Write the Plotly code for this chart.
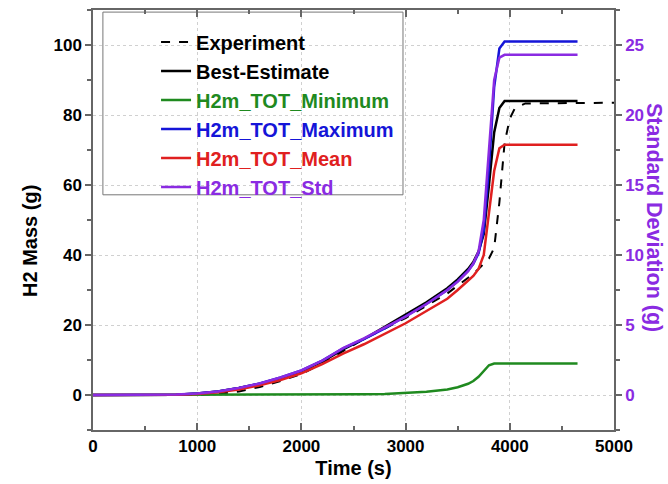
import plotly.graph_objects as go

# ---------------- data ----------------
t_sim = [0, 500, 800, 1000, 1200, 1400, 1600, 1800, 2000, 2200, 2400, 2600, 2800,
         3000, 3200, 3400, 3500, 3600, 3650, 3700, 3750, 3800, 3850, 3900, 3950, 4000, 4650]
best_est = [0, 0, 0.1, 0.4, 1.0, 2.0, 3.2, 4.8, 6.8, 9.5, 13.0, 16.0, 19.5,
            23.0, 26.5, 30.5, 33.0, 36.0, 38.0, 41.0, 46.0, 60.0, 75.0, 82.0, 84.0, 84.0, 84.0]
h2_min = [0, 0, 0, 0, 0, 0, 0, 0, 0.05, 0.1, 0.15, 0.2, 0.3,
          0.5, 0.9, 1.6, 2.2, 3.2, 4.0, 5.2, 6.8, 8.5, 9.0, 9.0, 9.0, 9.0, 9.0]
h2_max = [0, 0, 0.1, 0.4, 1.0, 2.0, 3.3, 5.0, 7.0, 9.8, 13.3, 16.0, 19.0,
          22.5, 26.0, 30.0, 32.5, 35.5, 37.5, 40.5, 47.0, 65.0, 88.0, 99.0, 101.0, 101.0, 101.0]
h2_mean = [0, 0, 0.1, 0.3, 0.8, 1.6, 2.8, 4.3, 6.2, 8.8, 11.8, 14.5, 17.5,
           20.5, 24.0, 27.5, 30.0, 32.5, 34.0, 36.0, 40.0, 52.0, 64.0, 70.5, 71.5, 71.5, 71.5]
h2_std = [0, 0, 0.03, 0.1, 0.25, 0.5, 0.82, 1.25, 1.75, 2.45, 3.35, 4.05, 4.8,
          5.6, 6.5, 7.5, 8.1, 8.85, 9.4, 10.25, 12.5, 17.5, 22.5, 24.1, 24.3, 24.3, 24.3]

t_exp = [0, 1000, 1200, 1400, 1600, 1800, 2000, 2200, 2400, 2600, 2800, 3000, 3200,
         3400, 3600, 3700, 3800, 3850, 3900, 3950, 4000, 4050, 4150, 5000]
exp_val = [0, 0, 0.3, 1.0, 2.3, 4.0, 6.0, 9.0, 12.5, 16.0, 19.0, 22.0, 25.5,
           29.0, 33.5, 36.0, 39.0, 42.0, 55.0, 72.0, 79.0, 82.0, 83.3, 83.5]

x_ticks = [0, 1000, 2000, 3000, 4000, 5000]
y_ticks = [0, 20, 40, 60, 80, 100]
y2_ticks = [0, 5, 10, 15, 20, 25]

FONT = "Liberation Sans, Arial, sans-serif"
PURPLE = "#8a2be2"

def lbl(text, color):
    return f'<span style="color:{color}"><b>{text}</b></span>'

fig = go.Figure()
fig.add_trace(go.Scatter(x=t_exp, y=exp_val, mode="lines", name=lbl("Experiment", "black"),
                         line=dict(color="black", width=2, dash="dash")))
fig.add_trace(go.Scatter(x=t_sim, y=best_est, mode="lines", name=lbl("Best-Estimate", "black"),
                         line=dict(color="black", width=2.5)))
fig.add_trace(go.Scatter(x=t_sim, y=h2_min, mode="lines", name=lbl("H2m_TOT_Minimum", "#1f8a1f"),
                         line=dict(color="#1f8a1f", width=2.5)))
fig.add_trace(go.Scatter(x=t_sim, y=h2_max, mode="lines", name=lbl("H2m_TOT_Maximum", "#1515d8"),
                         line=dict(color="#1515d8", width=2.5)))
fig.add_trace(go.Scatter(x=t_sim, y=h2_mean, mode="lines", name=lbl("H2m_TOT_Mean", "#e02020"),
                         line=dict(color="#e02020", width=2.5)))
fig.add_trace(go.Scatter(x=t_sim, y=h2_std, mode="lines", name=lbl("H2m_TOT_Std", PURPLE),
                         line=dict(color=PURPLE, width=2.5), yaxis="y2"))

axis_line = "#666666"
fig.update_layout(
    width=668, height=484,
    margin=dict(l=93, r=54, t=8, b=52),
    paper_bgcolor="white", plot_bgcolor="white",
    font=dict(family=FONT, size=16, color="black"),
    showlegend=True,
    legend=dict(x=0.121, y=0.97, xanchor="left", yanchor="top",
                bgcolor="rgba(255,255,255,0)", borderwidth=0,
                font=dict(family=FONT, size=20), traceorder="normal"),
    xaxis=dict(range=[0, 5000], tickvals=x_ticks, ticks="inside", ticklen=7,
               tickwidth=1.5, tickcolor=axis_line,
               minor=dict(dtick=500, ticks="inside", ticklen=4, tickcolor=axis_line, showgrid=False),
               showline=True, linecolor=axis_line, linewidth=1.5, mirror="ticks",
               showgrid=True, gridcolor="#d0d0d0", griddash="dot", gridwidth=1,
               zeroline=False,
               tickfont=dict(family=FONT, size=17, weight="bold"),
               title=dict(text="<b>Time (s)</b>", font=dict(family=FONT, size=20), standoff=6)),
    yaxis=dict(range=[-10, 110], tickvals=y_ticks, ticks="outside", ticklen=6,
               tickwidth=1.5, tickcolor=axis_line,
               minor=dict(dtick=10, tick0=0, ticks="outside", ticklen=4, tickcolor=axis_line, showgrid=False),
               showline=True, linecolor=axis_line, linewidth=1.5,
               showgrid=True, gridcolor="#d0d0d0", griddash="dot", gridwidth=1,
               zeroline=False,
               tickfont=dict(family=FONT, size=17, weight="bold")),
    yaxis2=dict(range=[-2.5, 27.5], tickvals=y2_ticks, overlaying="y", side="right",
                ticks="outside", ticklen=6, tickwidth=1.5, tickcolor=axis_line,
                minor=dict(dtick=2.5, tick0=0, ticks="outside", ticklen=4, tickcolor=axis_line, showgrid=False),
                showline=True, linecolor=axis_line, linewidth=1.5,
                showgrid=False, zeroline=False,
                tickfont=dict(family=FONT, size=17, weight="bold", color=PURPLE)),
    shapes=[dict(type="rect", xref="paper", yref="paper",
                 x0=0.019, x1=0.595, y0=0.56, y1=0.995,
                 line=dict(color="#777777", width=1), fillcolor="white", layer="between")],
    annotations=[
        dict(text="<b>H2 Mass (g)</b>", xref="paper", yref="paper",
             x=-0.121, y=0.45, textangle=-90, showarrow=False,
             font=dict(family=FONT, size=20, color="black"),
             xanchor="center", yanchor="middle"),
        dict(text="<b>Standard Deviation (g)</b>", xref="paper", yref="paper",
             x=1.076, y=0.506, textangle=90, showarrow=False,
             font=dict(family=FONT, size=21.5, color=PURPLE),
             xanchor="center", yanchor="middle"),
    ],
)

fig.write_html("out.html")
